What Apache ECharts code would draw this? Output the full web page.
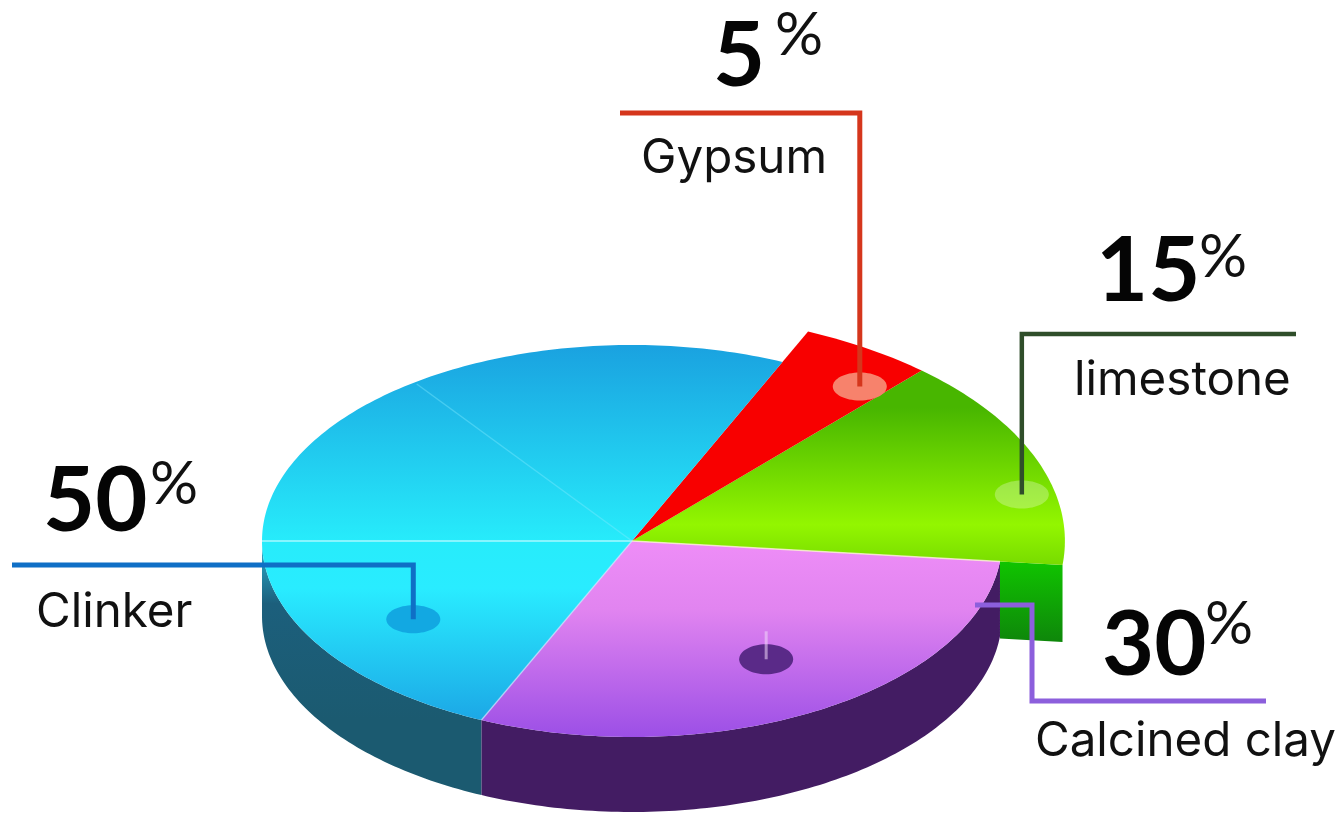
<!DOCTYPE html>
<html>
<head>
<meta charset="utf-8">
<title>Cement composition</title>
<style>
  html, body { margin: 0; padding: 0; background: #fff; }
  #chart { width: 1342px; height: 814px; }
</style>
<script src="https://cdn.jsdelivr.net/npm/echarts@6/dist/echarts.min.js"></script>
</head>
<body>
<div id="chart"></div>
<script>
// Share of each ingredient, counter-clockwise from the right-hand side of the disc
const categories = ['limestone', 'Gypsum', 'Clinker', 'Calcined clay'];
const shares = [15, 5, 50, 30];

// Disc projection: circle flattened to an ellipse, extruded downward
const disc = { cx: 632, cy: 541, rx: 370, ry: 196, depth: 75, startAngle: -6 };
const FONT_NUM = 'Lato, sans-serif';
const FONT_LABEL = 'Inter, sans-serif';

// Per-slice drawing settings
const looks = {
  limestone: {
    radius: 1.17,
    top: [[0, '#48b600'], [0.72, '#93f600'], [1, '#74d800']], band: [408, 570],
    anchor: [12.7, 1.08], dot: ['rgba(255,255,255,0.28)', 27, 14],
    line: '#2f4e2a', route: [[0, 334], [1296, 334]], lineWidth: 4.5,
    num: [1096, 272], pct: [1199, 258], label: [1074, 381]
  },
  Gypsum: {
    radius: 1.17,
    top: [[0, '#f80000'], [1, '#f80000']], band: [336, 540],
    anchor: [52, 1.0], dot: ['#f7826c', 27, 14],
    line: '#d5361c', route: [[0, 113], [620, 113]], lineWidth: 5,
    num: [713, 57], pct: [775, 36], label: [641, 159]
  },
  Clinker: {
    radius: 1,
    top: [[0, '#1aa2e0'], [0.5, '#27ecfb'], [0.62, '#29ecff'], [1, '#1a9fe3']], band: [346, 737],
    wall: [[0, '#2cb4d4'], [0.35, '#1c5f7c'], [1, '#1b5a70']], wallBand: [541, 720],
    anchor: [214, 0.713], dot: ['#12a8e2', 27, 14],
    line: '#0f6fc6', route: [[0, 565], [12, 565]], lineWidth: 5,
    num: [43, 502], pct: [150, 485], label: [36, 613]
  },
  'Calcined clay': {
    radius: 1,
    top: [[0, '#ee8df7'], [0.35, '#e184f0'], [1, '#9c4fe6']], band: [541, 737],
    wall: [[0, '#431c63'], [1, '#431c63']], wallBand: [541, 812],
    anchor: [301, 0.704], dot: ['#5a2a88', 27, 15],
    line: '#8c5fdc', route: [[975, 605], [1032, 605], [1032, 701], [1266, 701]], lineWidth: 5,
    num: [1102, 646], pct: [1205, 625], label: [1035, 742]
  }
};

function point(deg, r) {
  const a = deg * Math.PI / 180;
  return [disc.cx + disc.rx * r * Math.cos(a), disc.cy - disc.ry * r * Math.sin(a)];
}

function arc(from, to, r) {
  const pts = [];
  const n = Math.max(2, Math.ceil(Math.abs(to - from)));
  for (let i = 0; i <= n; i++) pts.push(point(from + (to - from) * i / n, r));
  return pts;
}

function band(stops, range) {
  return new echarts.graphic.LinearGradient(0, range[0], 0, range[1],
    stops.map(s => ({ offset: s[0], color: s[1] })), true);
}

function sliceAngles(index) {
  const total = shares.reduce((s, v) => s + v, 0);
  const before = shares.slice(0, index).reduce((s, v) => s + v, 0);
  const from = disc.startAngle + before / total * 360;
  return [from, from + shares[index] / total * 360];
}

function poly(points, fill, z2) {
  return { type: 'polygon', z2, silent: true, shape: { points }, style: { fill } };
}

function stroke(points, color, width, z2) {
  return {
    type: 'polyline', z2, silent: true, shape: { points },
    style: { stroke: color, lineWidth: width, fill: null, lineJoin: 'miter' }
  };
}

function text(content, pos, font, color, z2) {
  return {
    type: 'text', z2, silent: true, x: pos[0], y: pos[1],
    style: { text: content, font, fill: color, align: 'left', verticalAlign: 'middle' }
  };
}

function renderSlice(params, api) {
  const name = categories[params.dataIndex];
  const value = api.value(1);
  const look = looks[name];
  const [from, to] = sliceAngles(params.dataIndex);
  const children = [];

  // Extruded rim, front half of the disc only
  if (look.wall) {
    const a = Math.max(from, 180), b = Math.min(to, 360);
    const top = arc(a, b, 1);
    const bottom = top.map(p => [p[0], p[1] + disc.depth]).reverse();
    children.push(poly(top.concat(bottom), band(look.wall, look.wallBand), 2));
  }

  // Cut face where the enlarged slice overhangs its neighbour
  if (name === 'limestone') {
    const inner = point(from, 1), outer = point(from, look.radius);
    children.push(poly([
      inner, outer,
      [outer[0], outer[1] + disc.depth + 2], [inner[0], inner[1] + disc.depth + 2]
    ], band([[0, '#10c400'], [1, '#0e880a']], [inner[1], outer[1] + disc.depth]), 1));
  }

  // Top face
  const face = [[disc.cx, disc.cy]].concat(arc(from, to, look.radius));
  children.push(poly(face, band(look.top, look.band), 3));

  // Marker disc and leader line
  const dotPos = point(look.anchor[0], look.anchor[1]);
  children.push({
    type: 'ellipse', z2: 5, silent: true,
    shape: { cx: dotPos[0], cy: dotPos[1], rx: look.dot[1], ry: look.dot[2] },
    style: { fill: look.dot[0] }
  });
  let route;
  if (name === 'Calcined clay') {
    route = look.route;
    children.push(stroke([[dotPos[0], dotPos[1]], [dotPos[0], dotPos[1] - 28]],
      'rgba(240,215,250,0.55)', 3, 6));
  } else {
    route = [[dotPos[0], dotPos[1]], [dotPos[0], look.route[0][1]], look.route[1]];
  }
  children.push(stroke(route, look.line, look.lineWidth, 6));

  // Value and name
  children.push(text(String(value), look.num, '700 90px ' + FONT_NUM, '#050505', 7));
  children.push(text('%', look.pct, '400 60px ' + FONT_NUM, '#111', 7));
  children.push(text(name, look.label, '400 47.5px ' + FONT_LABEL, '#111', 7));

  return { type: 'group', children };
}

// Pale seams drawn across the top of the disc
function renderSeams() {
  const c = [disc.cx, disc.cy];
  const clinker = sliceAngles(categories.indexOf('Clinker'));
  const clay = sliceAngles(categories.indexOf('Calcined clay'));
  return {
    type: 'group',
    children: [
      stroke([c, point(180, 1)], 'rgba(190,250,255,0.85)', 1.5, 4),
      stroke([c, point(126, 0.99)], 'rgba(130,235,255,0.4)', 1.5, 4),
      stroke([c, point(clinker[1], 1)], 'rgba(200,235,255,0.6)', 1.5, 4),
      stroke([c, point(clay[1], 1)], 'rgba(250,240,210,0.8)', 1.5, 4)
    ]
  };
}

const chart = echarts.init(document.getElementById('chart'));
chart.setOption({
  backgroundColor: '#ffffff',
  animation: false,
  series: [
    {
      type: 'custom',
      coordinateSystem: 'none',
      silent: true,
      data: categories.map((c, i) => [c, shares[i]]),
      encode: { itemName: 0, value: 1 },
      renderItem: renderSlice
    },
    {
      type: 'custom',
      coordinateSystem: 'none',
      silent: true,
      data: [0],
      renderItem: renderSeams
    }
  ]
});
</script>
</body>
</html>
